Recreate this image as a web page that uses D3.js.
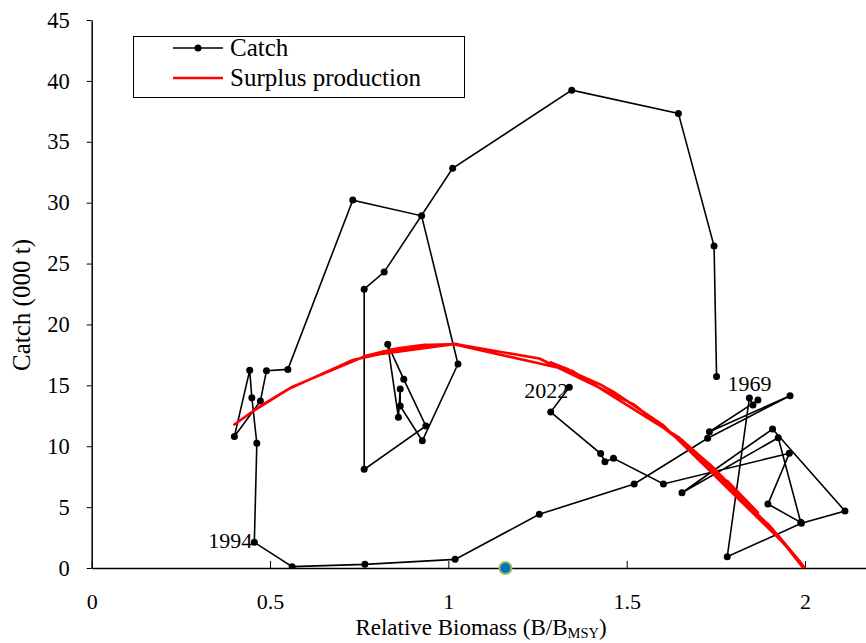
<!DOCTYPE html>
<html><head><meta charset="utf-8">
<script src="https://cdn.jsdelivr.net/npm/d3@7"></script>
<style>
body{margin:0;background:#fff}
svg{display:block}
text{font-family:"Liberation Serif","Times New Roman",serif;fill:#000}
</style>
</head><body>
<svg id="chart" width="866" height="643"></svg>
<script>
// Relative biomass (B/Bmsy) per year, in year order
const biomass = [1.752,1.745,1.645,1.346,1.012,0.820,0.764,0.764,0.937,0.875,0.830,0.860,0.865,0.865,0.927,1.027,0.925,0.732,0.550,0.490,0.473,0.400,0.443,0.449,0.463,0.456,0.562,0.766,1.019,1.255,1.521,1.727,1.958,1.732,1.868,1.854,1.844,1.782,1.990,2.112,1.909,1.655,1.925,1.988,1.896,1.956,1.603,1.463,1.439,1.427,1.287,1.339];
// Catch (000 t)
const catches = [15.72,26.44,37.33,39.24,32.82,24.30,22.90,8.10,11.66,15.49,18.37,12.37,14.70,13.30,10.45,16.75,28.92,30.21,16.31,16.20,13.71,10.80,16.23,13.98,10.24,2.11,0.11,0.30,0.71,4.41,6.90,10.65,14.15,11.19,13.79,13.38,13.96,0.93,3.67,4.68,11.41,6.18,10.70,3.75,5.25,9.42,6.90,9.01,8.73,9.40,12.81,14.84];
// Surplus production (000 t) at each year's biomass
const surplus = [7.99,8.19,10.75,16.20,18.40,17.80,17.38,17.38,18.33,18.11,17.87,18.04,18.06,18.06,18.30,18.39,18.30,17.08,14.67,13.61,13.29,11.78,12.69,12.81,13.09,12.95,14.87,17.39,18.39,17.20,13.41,8.67,1.51,8.54,4.54,4.98,5.29,7.15,0.37,-4.35,3.20,10.51,2.66,0.44,3.63,1.58,11.71,14.46,14.85,15.05,16.88,16.29];
const yearLabels = [{text:"1969", idx:0},{text:"1994", idx:25},{text:"2022", idx:51}];
const currentPoint = [{b:1.16, c:0}];
const xTicks = [0,0.5,1,1.5,2];
const xTickLabels = ["0","0.5","1","1.5","2"];
const yTicks = [0,5,10,15,20,25,30,35,40,45];
const legendLabels = ["Catch","Surplus production"];

const svg = d3.select("#chart");
const x = d3.scaleLinear().domain([0, 2.171]).range([91.7, 866]);
const y = d3.scaleLinear().domain([0, 45]).range([568, 20]);

svg.append("defs").append("clipPath").attr("id","plot")
  .append("rect").attr("x",91.7).attr("y",0).attr("width",866-91.7).attr("height",568);

// axes
const xAxis = d3.axisBottom(x).tickValues(xTicks).tickFormat((d,i)=>xTickLabels[i])
  .tickSizeInner(-7).tickSizeOuter(0).tickPadding(25);
const gx = svg.append("g").attr("transform","translate(0,568)").call(xAxis);
gx.selectAll("text").style("font-size","22px");
gx.select(".domain").attr("stroke","#000").attr("stroke-width",1.5);
gx.selectAll(".tick line").attr("stroke","#000").attr("stroke-width",1);

const yAxis = d3.axisLeft(y).tickValues(yTicks).tickSizeInner(5).tickSizeOuter(0).tickPadding(17);
const gy = svg.append("g").attr("transform","translate(91.7,0)").call(yAxis);
gy.selectAll("text").style("font-size","22.5px");
gy.select(".domain").attr("stroke","#000").attr("stroke-width",1.5);
gy.selectAll(".tick line").attr("stroke","#000").attr("stroke-width",1);

// axis titles
const xt = svg.append("text").attr("x",481).attr("y",635).attr("text-anchor","middle").style("font-size","23px");
xt.append("tspan").text("Relative Biomass (B/B");
xt.append("tspan").text("MSY").attr("dy",3).style("font-size","14.5px");
xt.append("tspan").text(")").attr("dy",-3);
svg.append("text").attr("transform","translate(30,305) rotate(-90)").attr("text-anchor","middle")
  .style("font-size","25px").text("Catch (000 t)");

const plot = svg.append("g").attr("clip-path","url(#plot)");

// catch trajectory
const cData = biomass.map((b,i)=>[b, catches[i]]);
plot.append("path").datum(cData)
  .attr("d", d3.line().x(d=>x(d[0])).y(d=>y(d[1])))
  .attr("fill","none").attr("stroke","#000").attr("stroke-width",1.6);
plot.selectAll("circle.pt").data(cData).join("circle").attr("class","pt")
  .attr("cx",d=>x(d[0])).attr("cy",d=>y(d[1])).attr("r",3.5).attr("fill","#000");

// surplus production (drawn after catch, as in the reference)
const spData = biomass.map((b,i)=>[b, surplus[i]]);
plot.append("path").datum(spData)
  .attr("d", d3.line().x(d=>x(d[0])).y(d=>y(d[1])))
  .attr("fill","none").attr("stroke","#ff0000").attr("stroke-width",2.6).attr("stroke-linejoin","round");

// current point marker
svg.selectAll("circle.cur").data(currentPoint).join("circle").attr("class","cur")
  .attr("cx",d=>x(d.b)).attr("cy",d=>y(d.c)).attr("r",6)
  .attr("fill","#0070c0").attr("stroke","#9bbb59").attr("stroke-width",2);

// year labels
const labelStyle = {"1969":{anchor:"start",dx:11,dy:14},"1994":{anchor:"end",dx:-2,dy:6},"2022":{anchor:"end",dx:-1,dy:11}};
svg.selectAll("text.yr").data(yearLabels).join("text").attr("class","yr")
  .attr("x",d=>x(biomass[d.idx])+labelStyle[d.text].dx)
  .attr("y",d=>y(catches[d.idx])+labelStyle[d.text].dy)
  .attr("text-anchor",d=>labelStyle[d.text].anchor)
  .style("font-size","22px").text(d=>d.text);

// legend
const lg = svg.append("g");
lg.append("rect").attr("x",133.5).attr("y",36.5).attr("width",331).attr("height",61)
  .attr("fill","#fff").attr("stroke","#000").attr("stroke-width",1);
const rows = [48, 78];
lg.append("line").attr("x1",173).attr("x2",223).attr("y1",rows[0]).attr("y2",rows[0]).attr("stroke","#000").attr("stroke-width",1.6);
lg.append("circle").attr("cx",198).attr("cy",rows[0]).attr("r",3.5).attr("fill","#000");
lg.append("line").attr("x1",173).attr("x2",223).attr("y1",rows[1]).attr("y2",rows[1]).attr("stroke","#ff0000").attr("stroke-width",2.6);
lg.selectAll("text.lt").data(legendLabels).join("text").attr("class","lt")
  .attr("x",230).attr("y",(d,i)=>rows[i]+8).style("font-size","25px").text(d=>d);
</script>
</body></html>
